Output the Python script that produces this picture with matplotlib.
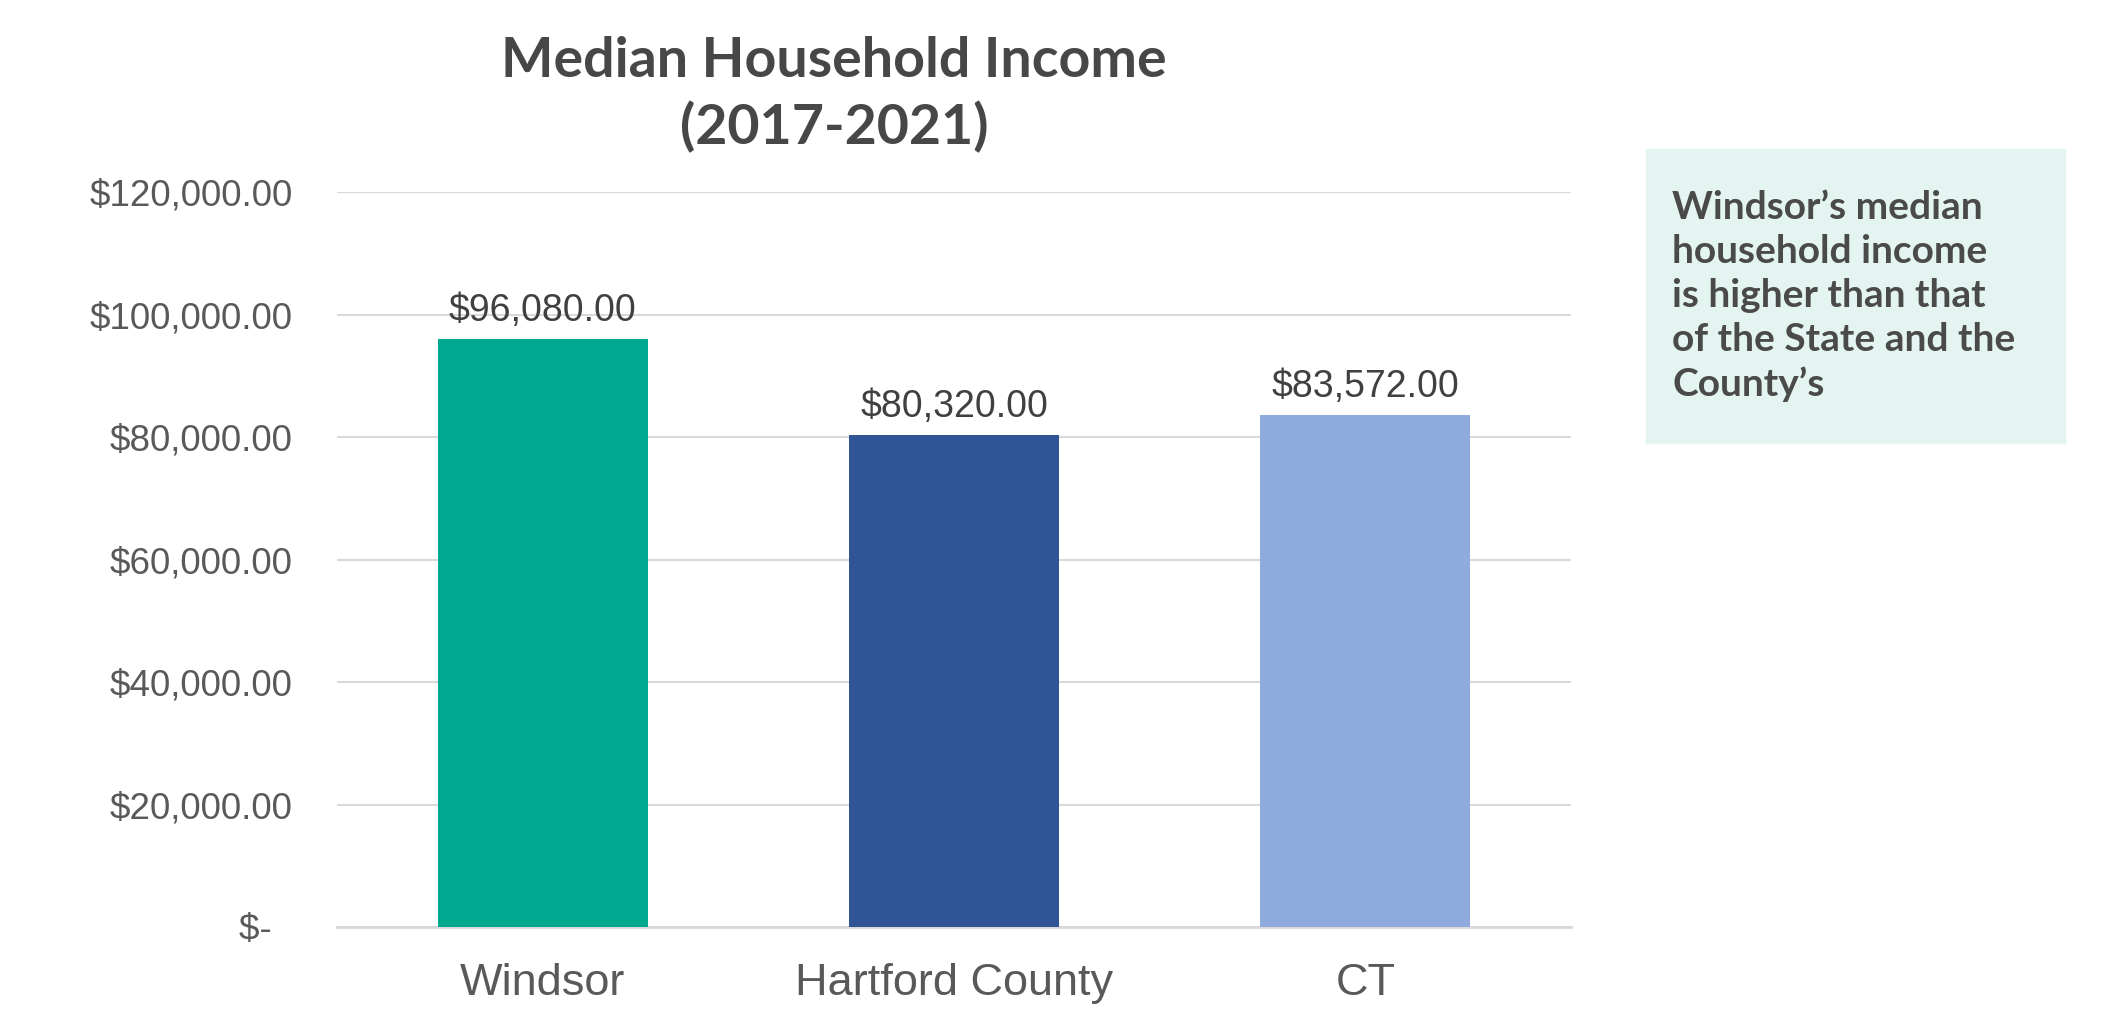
import matplotlib.pyplot as plt
from matplotlib.ticker import FuncFormatter

# data
regions = ['Windsor', 'Hartford County', 'CT']
income = [96080, 80320, 83572]
colors = ['#00A88F', '#2F5597', '#8FAADC']
y_ticks = [0, 20000, 40000, 60000, 80000, 100000, 120000]

note = "Windsor\u2019s median\nhousehold income\nis higher than that\nof the State and the\nCounty\u2019s"

fig = plt.figure(figsize=(21.09, 10.15), dpi=100)
ax = fig.add_axes([0.1598, 0.0867, 0.5851, 0.7241])

x = range(len(regions))
bars = ax.bar(x, income, width=0.51, color=colors, zorder=3)

ax.set_xlim(-0.5, 2.5)
ax.set_ylim(0, 120000)
ax.set_yticks(y_ticks)


def money(v, pos=None):
    if v == 0:
        return '$-  '
    return f'${v:,.2f}'


ax.yaxis.set_major_formatter(FuncFormatter(money))
ax.set_xticks(list(x))
ax.set_xticklabels(regions)

ax.grid(axis='y', color='#d9d9d9', linewidth=1.5, zorder=0)
ax.tick_params(axis='y', length=0, pad=32, labelsize=26.5, labelcolor='#595959')
ax.tick_params(axis='x', length=0, pad=26, labelsize=32.5, labelcolor='#595959')
for lbl in ax.get_xticklabels() + ax.get_yticklabels():
    lbl.set_fontfamily('Liberation Sans')
for s in ['top', 'right', 'left']:
    ax.spines[s].set_visible(False)
ax.spines['bottom'].set_color('#d9d9d9')
ax.spines['bottom'].set_linewidth(2)

# value labels
for b, v in zip(bars, income):
    ax.annotate(money(v), (b.get_x() + b.get_width() / 2, v),
                xytext=(0, 7), textcoords='offset points',
                ha='center', va='bottom', fontsize=27,
                color='#404040', family='Liberation Sans')

# title
fig.text(0.3955, 0.940, 'Median Household Income', ha='center', va='center',
         fontsize=40, fontweight='bold', color='#474747', family='Lato')
fig.text(0.3955, 0.875, '(2017-2021)', ha='center', va='center',
         fontsize=40, fontweight='bold', color='#474747', family='Lato')

# side note box
box = plt.Rectangle((1646 / 2109, 1 - 443 / 1015), 419 / 2109, 294 / 1015,
                    transform=fig.transFigure, color='#E3F4F1', zorder=0)
fig.patches.append(box)
fig.text(1672 / 2109, 1 - 190 / 1015, note, ha='left', va='top',
         fontsize=28, fontweight='bold', color='#4a4a4a', family='Lato',
         linespacing=1.31)

fig.savefig('out.png', dpi=100)
